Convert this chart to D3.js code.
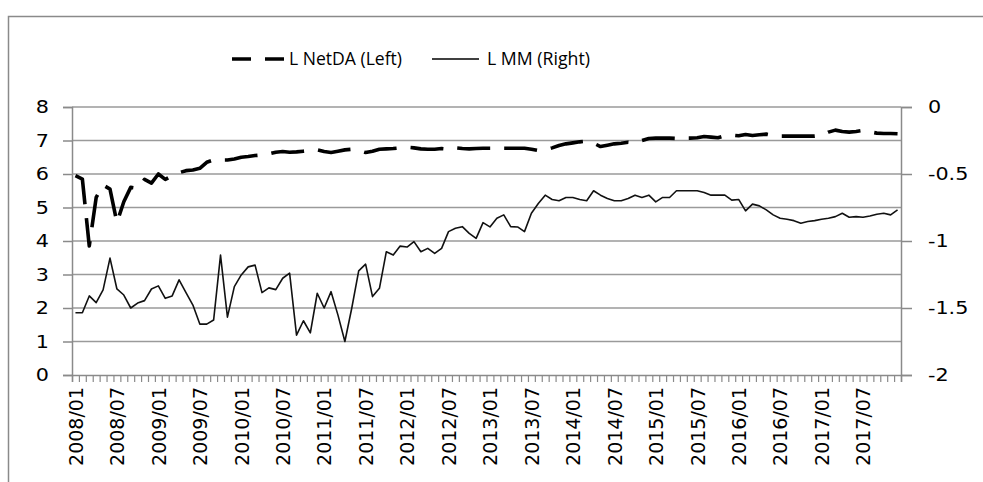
<!DOCTYPE html>
<html>
<head>
<meta charset="utf-8">
<script src="https://cdn.jsdelivr.net/npm/d3@7"></script>
<style>
  body { margin: 0; background: #fff; }
  svg { display: block; }
</style>
</head>
<body>
<div id="chart"></div>
<script>
const w = 983;
const h = 482;

// monthly categories 2008/01 .. 2017/12
const months = [];
for (let y = 2008; y <= 2017; y++) {
    for (let m = 1; m <= 12; m++) {
        months.push(y + "/" + (m < 10 ? "0" + m : m));
    }
}

// L NetDA (left axis)
const netDA = [
    5.95, 5.85, 3.85, 5.3, 5.67, 5.55, 4.55, 5.17, 5.6, 5.57,
    5.84, 5.73, 6.0, 5.84, 5.95, 6.04, 6.1, 6.12, 6.17, 6.35,
    6.42, 6.42, 6.42, 6.45, 6.5, 6.52, 6.55, 6.57, 6.6, 6.65,
    6.67, 6.65, 6.66, 6.68, 6.7, 6.72, 6.67, 6.64, 6.68, 6.72,
    6.74, 6.7, 6.64, 6.68, 6.74, 6.75, 6.76, 6.78, 6.8, 6.78,
    6.75, 6.74, 6.74, 6.76, 6.74, 6.78, 6.76, 6.75, 6.76, 6.77,
    6.77, 6.77, 6.77, 6.77, 6.77, 6.77, 6.74, 6.7, 6.72, 6.78,
    6.85, 6.9, 6.93, 6.96, 6.98, 6.92, 6.82, 6.86, 6.9, 6.92,
    6.95, 6.93, 7.0, 7.06, 7.07, 7.07, 7.07, 7.06, 7.07, 7.07,
    7.08, 7.12, 7.1, 7.08, 7.14, 7.16, 7.14, 7.18, 7.15, 7.17,
    7.19, 7.15, 7.13, 7.13, 7.13, 7.13, 7.13, 7.13, 7.15, 7.25,
    7.31, 7.27, 7.25, 7.27, 7.3, 7.26, 7.22, 7.21, 7.21, 7.2
];

// L MM (right axis)
const mm = [
    -1.535, -1.535, -1.41, -1.46, -1.365, -1.128, -1.358, -1.403, -1.5, -1.463,
    -1.445, -1.358, -1.335, -1.428, -1.41, -1.29, -1.385, -1.478, -1.62, -1.62,
    -1.59, -1.105, -1.568, -1.34, -1.253, -1.193, -1.18, -1.385, -1.35, -1.363,
    -1.278, -1.24, -1.703, -1.595, -1.685, -1.39, -1.5, -1.378, -1.553, -1.75,
    -1.5, -1.223, -1.173, -1.415, -1.353, -1.08, -1.105, -1.038, -1.045, -1.005,
    -1.08, -1.055, -1.093, -1.055, -0.93, -0.905, -0.893, -0.943, -0.98, -0.863,
    -0.895, -0.83, -0.805, -0.893, -0.895, -0.93, -0.793, -0.72, -0.658, -0.69,
    -0.7, -0.675, -0.675, -0.69, -0.7, -0.625, -0.658, -0.683, -0.7, -0.7,
    -0.683, -0.658, -0.675, -0.658, -0.708, -0.675, -0.675, -0.625, -0.625, -0.625,
    -0.625, -0.638, -0.658, -0.658, -0.658, -0.695, -0.69, -0.775, -0.725, -0.738,
    -0.768, -0.805, -0.83, -0.838, -0.848, -0.868, -0.855, -0.848, -0.838, -0.83,
    -0.818, -0.793, -0.823, -0.818, -0.823, -0.813, -0.8, -0.793, -0.805, -0.768
];

const leftTicks = [0, 1, 2, 3, 4, 5, 6, 7, 8];
const rightTicks = [-2, -1.5, -1, -0.5, 0];
const labelEvery = 6;

const plot = { left: 72, right: 901, top: 107, bottom: 375 };
const gridColor = "#9a9a9a";

const svg = d3.select("#chart")
    .append("svg")
    .attr("width", w)
    .attr("height", h);

// chart frame
svg.append("rect")
    .attr("x", 8.5)
    .attr("y", 16.5)
    .attr("width", 1000)
    .attr("height", 500)
    .attr("fill", "none")
    .attr("stroke", "#8a8a8a")
    .attr("stroke-width", 1.5);

const x = d3.scaleLinear().domain([0, months.length]).range([plot.left, plot.right]);
const yL = d3.scaleLinear().domain([0, 8]).range([plot.bottom, plot.top]);
const yR = d3.scaleLinear().domain([-2, 0]).range([plot.bottom, plot.top]);

// gridlines
svg.append("g")
    .selectAll("line")
    .data(leftTicks.slice(1))
    .enter()
    .append("line")
    .attr("x1", plot.left)
    .attr("x2", plot.right)
    .attr("y1", d => yL(d))
    .attr("y2", d => yL(d))
    .attr("stroke", gridColor)
    .attr("stroke-width", 1.5);

// left axis
const gLeft = svg.append("g")
    .attr("transform", "translate(" + plot.left + ",0)")
    .call(d3.axisLeft(yL).tickValues(leftTicks).tickSize(9).tickPadding(14).tickFormat(d3.format("d")));

// right axis
const gRight = svg.append("g")
    .attr("transform", "translate(" + plot.right + ",0)")
    .call(d3.axisRight(yR).tickValues(rightTicks).tickSize(11).tickPadding(15).tickFormat(d => d === 0 ? "0" : String(d)));

// bottom axis: tick marks at category boundaries
const gBottom = svg.append("g")
    .attr("transform", "translate(0," + plot.bottom + ")")
    .call(d3.axisBottom(x).tickValues(d3.range(months.length + 1)).tickSize(7).tickFormat(""));

// bottom labels every 6 months, centred on the category
const labelIdx = d3.range(0, months.length, labelEvery);
const gLabels = svg.append("g")
    .attr("transform", "translate(0," + plot.bottom + ")")
    .call(d3.axisBottom(x).tickValues(labelIdx.map(i => i + 0.5)).tickSize(0)
        .tickFormat(d => months[Math.round(d - 0.5)]));
gLabels.select(".domain").remove();
gLabels.selectAll("text")
    .attr("transform", "rotate(-90)")
    .attr("text-anchor", "end")
    .attr("x", -12)
    .attr("y", 0)
    .attr("dy", "0.36em")
    .style("font-family", "DejaVu Sans")
    .style("font-size", "19px")
    .attr("fill", "#000");

[gLeft, gRight, gBottom].forEach(g => {
    g.selectAll(".domain").attr("stroke", "#8a8a8a").attr("stroke-width", 1.5);
    g.selectAll(".tick line").attr("stroke", "#8a8a8a").attr("stroke-width", 1.5);
});
gBottom.selectAll(".tick line").attr("stroke-width", 1.2);

[gLeft, gRight].forEach(g => {
    g.selectAll("text")
        .style("font-family", "DejaVu Sans")
        .style("font-size", "18px")
        .attr("fill", "#000");
});
gLeft.selectAll("text").attr("transform", "scale(1.15,1)").attr("x", -23 / 1.15);
gRight.selectAll("text").attr("transform", "scale(1.15,1)").attr("x", 27 / 1.15);

// lines
const netLine = d3.line()
    .x((d, i) => x(i + 0.5))
    .y(d => yL(d));

const mmLine = d3.line()
    .x((d, i) => x(i + 0.5))
    .y(d => yR(d));

svg.append("path")
    .datum(mm)
    .attr("d", mmLine)
    .attr("fill", "none")
    .attr("stroke", "#111")
    .attr("stroke-width", 1.6)
    .attr("stroke-linejoin", "round");

svg.append("path")
    .datum(netDA)
    .attr("d", netLine)
    .attr("fill", "none")
    .attr("stroke", "#000")
    .attr("stroke-width", 3.6)
    .attr("stroke-dasharray", "33,14")
    .attr("stroke-linejoin", "round");

// legend
const legend = svg.append("g");
legend.append("line")
    .attr("x1", 232).attr("x2", 285)
    .attr("y1", 59).attr("y2", 59)
    .attr("stroke", "#000")
    .attr("stroke-width", 3.6)
    .attr("stroke-dasharray", "19,14");
legend.append("text")
    .attr("x", 289).attr("y", 65)
    .attr("textLength", 113)
    .attr("lengthAdjust", "spacingAndGlyphs")
    .style("font-family", "Open Sans")
    .style("font-size", "18px")
    .text("L NetDA (Left)");
legend.append("line")
    .attr("x1", 432).attr("x2", 479)
    .attr("y1", 59).attr("y2", 59)
    .attr("stroke", "#000")
    .attr("stroke-width", 1.6);
legend.append("text")
    .attr("x", 487).attr("y", 65)
    .attr("textLength", 103)
    .attr("lengthAdjust", "spacingAndGlyphs")
    .style("font-family", "Open Sans")
    .style("font-size", "18px")
    .text("L MM (Right)");
</script>
</body>
</html>
